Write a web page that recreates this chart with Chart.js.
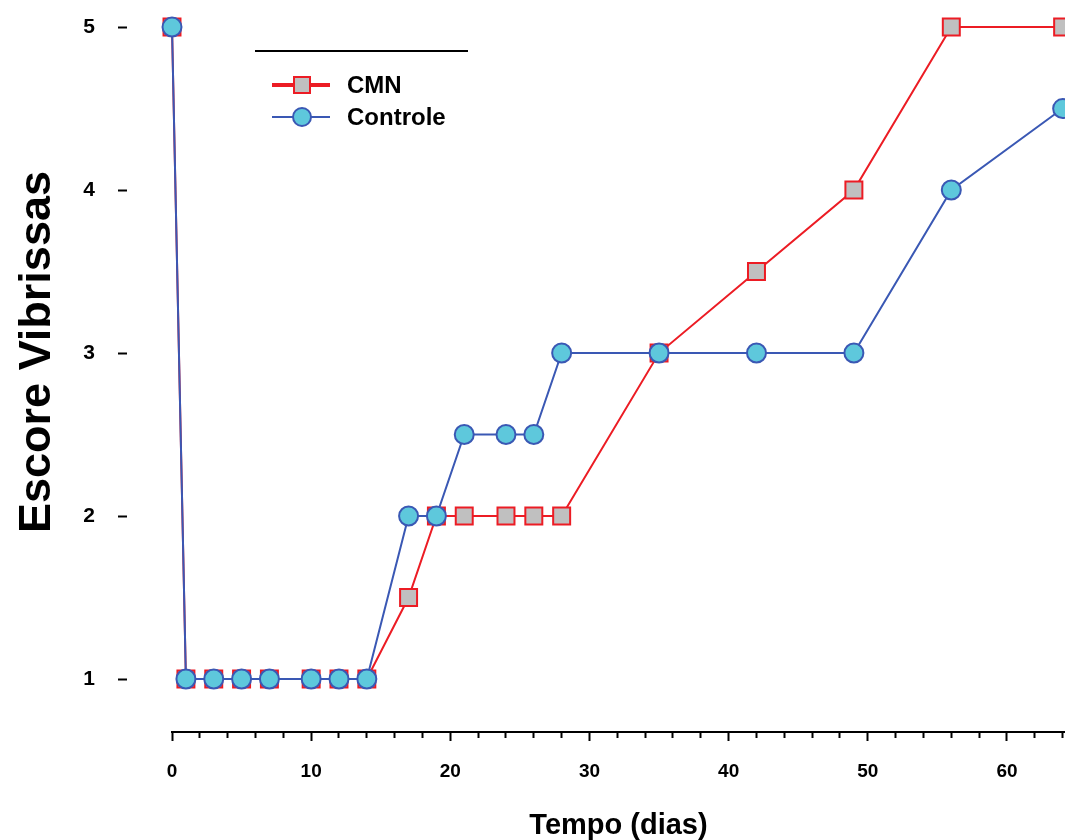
<!DOCTYPE html>
<html>
<head>
<meta charset="utf-8">
<script src="https://cdn.jsdelivr.net/npm/chart.js@4"></script>
<style>
  body { margin: 0; background: #fff; }
  #wrap { width: 1065px; height: 840px; position: relative; }
</style>
</head>
<body>
<div id="wrap"><canvas id="myChart"></canvas></div>
<script>
// dias de avaliacao
var dias = [0, 1, 3, 5, 7, 10, 12, 14, 17, 19, 21, 24, 26, 28, 35, 42, 49, 56, 64];
var cmn = [5, 1, 1, 1, 1, 1, 1, 1, 1.5, 2, 2, 2, 2, 2, 3, 3.5, 4, 5, 5];
var controle = [5, 1, 1, 1, 1, 1, 1, 1, 2, 2, 2.5, 2.5, 2.5, 3, 3, 3, 3, 4, 4.5];
var yTicks = [1, 2, 3, 4, 5];
var xTicks = [0, 2, 4, 6, 8, 10, 12, 14, 16, 18, 20, 22, 24, 26, 28, 30, 32, 34, 36, 38, 40, 42, 44, 46, 48, 50, 52, 54, 56, 58, 60, 62, 64];

var RED = '#ec1c24';
var BLUE = '#3a58b4';

function pts(ys) {
  return dias.map(function (d, i) { return { x: d, y: ys[i] }; });
}

function semPadding(s) {
  s.paddingTop = 0;
  s.paddingBottom = 0;
  s.paddingLeft = 0;
  s.paddingRight = 0;
}

// legenda e titulo do eixo y desenhados a mao
var legenda = {
  id: 'legenda',
  afterDraw: function (chart) {
    var ctx = chart.ctx;
    ctx.save();
    ctx.strokeStyle = '#000';
    ctx.lineWidth = 2;
    ctx.beginPath();
    ctx.moveTo(255, 51);
    ctx.lineTo(468, 51);
    ctx.stroke();
    chart.data.datasets.forEach(function (ds, i) {
      var y = 85 + i * 32;
      ctx.strokeStyle = ds.borderColor;
      ctx.lineWidth = i === 0 ? 4 : 2;
      ctx.beginPath();
      ctx.moveTo(272, y);
      ctx.lineTo(330, y);
      ctx.stroke();
      ctx.fillStyle = ds.pointBackgroundColor;
      ctx.strokeStyle = ds.pointBorderColor;
      ctx.lineWidth = 2;
      ctx.beginPath();
      if (ds.pointStyle === 'rect') {
        ctx.rect(302 - 8, y - 8, 16, 16);
      } else {
        ctx.arc(302, y, 9, 0, Math.PI * 2);
      }
      ctx.fill();
      ctx.stroke();
      ctx.fillStyle = '#000';
      ctx.font = 'bold 24px "Liberation Sans", Arial, sans-serif';
      ctx.textBaseline = 'middle';
      ctx.fillText(ds.label, 347, y + 1);
    });

    // titulo y
    ctx.translate(38, 352);
    ctx.rotate(-Math.PI / 2);
    ctx.font = 'bold 45px "Liberation Sans", Arial, sans-serif';
    ctx.textAlign = 'center';
    ctx.textBaseline = 'middle';
    ctx.fillStyle = '#000';
    ctx.fillText('Escore Vibrissas', 0, 0);
    ctx.restore();
  }
};

var ctx = document.getElementById('myChart').getContext('2d');
var myChart = new Chart(ctx, {
  type: 'line',
  data: {
    datasets: [
      {
        label: 'CMN',
        data: pts(cmn),
        borderColor: RED,
        borderWidth: 2,
        pointStyle: 'rect',
        pointRadius: 12,
        pointBackgroundColor: '#c0c0c0',
        pointBorderColor: RED,
        pointBorderWidth: 2,
        order: 1,
        clip: false
      },
      {
        label: 'Controle',
        data: pts(controle),
        borderColor: BLUE,
        borderWidth: 2,
        pointStyle: 'circle',
        pointRadius: 9.5,
        pointBackgroundColor: '#5ec8dc',
        pointBorderColor: BLUE,
        pointBorderWidth: 2,
        order: 0,
        clip: false
      }
    ]
  },
  options: {
    responsive: true,
    maintainAspectRatio: false,
    animation: false,
    layout: { padding: 0, autoPadding: false },
    plugins: {
      legend: { display: false },
      tooltip: { enabled: false }
    },
    scales: {
      x: {
        type: 'linear',
        min: 0,
        max: 64.17,
        afterBuildTicks: function (s) { s.ticks = xTicks.map(function (v) { return { value: v }; }); },
        afterFit: function (s) { s.height = 108; semPadding(s); },
        grid: {
          drawOnChartArea: false,
          tickLength: 9,
          tickWidth: 2,
          tickColor: '#000',
          tickBorderDash: function (c) { return c.tick && c.tick.value % 10 === 0 ? [] : [5, 20]; }
        },
        border: { color: '#000', width: 2 },
        ticks: {
          autoSkip: false,
          maxRotation: 0,
          padding: 19,
          color: '#000',
          font: { family: '"Liberation Sans", Arial, sans-serif', size: 19, weight: 'bold' },
          callback: function (v) { return v % 10 === 0 ? v : ''; }
        },
        title: {
          display: true,
          text: 'Tempo (dias)',
          color: '#000',
          padding: { top: 0, bottom: 0 },
          font: { family: '"Liberation Sans", Arial, sans-serif', size: 29, weight: 'bold', lineHeight: 1 }
        }
      },
      y: {
        type: 'linear',
        min: 0.675,
        max: 5.166,
        afterBuildTicks: function (s) { s.ticks = yTicks.map(function (v) { return { value: v }; }); },
        afterFit: function (s) { s.width = 172; semPadding(s); },
        grid: {
          drawOnChartArea: false,
          tickLength: 54,
          tickWidth: 2,
          tickColor: '#000',
          tickBorderDash: [9, 100]
        },
        border: { display: false },
        ticks: {
          padding: 23,
          color: '#000',
          font: { family: '"Liberation Sans", Arial, sans-serif', size: 21, weight: 'bold' }
        },
        title: { display: false }
      }
    }
  },
  plugins: [legenda]
});
</script>
</body>
</html>
